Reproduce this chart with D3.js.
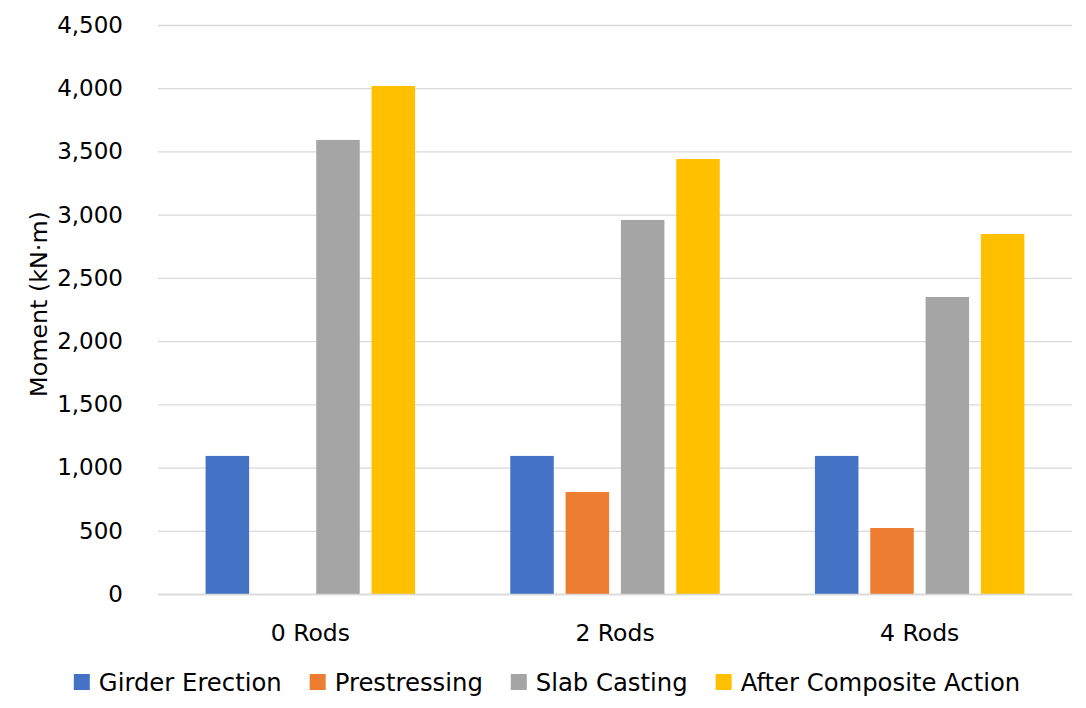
<!DOCTYPE html>
<html>
<head>
<meta charset="utf-8">
<script src="https://cdn.jsdelivr.net/npm/d3@7/dist/d3.min.js"></script>
<style>
  html, body { margin: 0; padding: 0; background: #fff; }
  svg { display: block; }
  text { font-family: "DejaVu Sans", sans-serif; fill: #000; }
</style>
</head>
<body>
<svg id="chart" width="1086" height="708"></svg>
<script>
const categories = ["0 Rods", "2 Rods", "4 Rods"];
const seriesNames = ["Girder Erection", "Prestressing", "Slab Casting", "After Composite Action"];
const girderErection = [1092, 1092, 1092];
const prestressing = [0, 807, 522];
const slabCasting = [3591, 2958, 2349];
const afterComposite = [4018, 3440, 2847];
const seriesValues = [girderErection, prestressing, slabCasting, afterComposite];
const colors = ["#4472C4", "#ED7D31", "#A5A5A5", "#FFC000"];
const yTicks = [0, 500, 1000, 1500, 2000, 2500, 3000, 3500, 4000, 4500];
const yTitle = "Moment (kN·m)";

const svg = d3.select("#chart");
const plot = { left: 158, right: 1072, top: 25, bottom: 594 };

const y = d3.scaleLinear().domain([0, 4500]).range([plot.bottom, plot.top]);
const x0 = d3.scaleBand().domain(categories).range([plot.left, plot.right]).padding(0);
const outer = 47.6;
const x1 = d3.scaleBand().domain(seriesNames)
  .range([outer, x0.bandwidth() - outer]).paddingInner(0.2134).paddingOuter(0);

// gridlines
const yAxis = d3.axisLeft(y).tickValues(yTicks).tickSize(-(plot.right - plot.left))
  .tickFormat(d3.format(","));
const gy = svg.append("g").attr("transform", `translate(${plot.left},0)`).call(yAxis);
gy.select(".domain").remove();
gy.selectAll(".tick line").attr("stroke", "#d9d9d9").attr("stroke-width", 1.3);
gy.selectAll(".tick text").attr("x", -35).attr("font-size", 23)
  .attr("font-family", "DejaVu Sans, sans-serif").attr("fill", "#000");

// bars
const groups = svg.append("g").selectAll("g").data(categories).join("g")
  .attr("transform", d => `translate(${x0(d)},0)`);
groups.selectAll("rect")
  .data((c, ci) => seriesNames.map((s, si) => ({ s, si, v: seriesValues[si][ci] })))
  .join("rect")
  .attr("x", d => x1(d.s))
  .attr("width", x1.bandwidth())
  .attr("y", d => y(d.v))
  .attr("height", d => y(0) - y(d.v))
  .attr("fill", d => colors[d.si]);

// x axis
const xAxis = d3.axisBottom(x0).tickSize(0).tickPadding(0);
const gx = svg.append("g").attr("transform", `translate(0,${plot.bottom})`).call(xAxis);
gx.select(".domain").attr("stroke", "#d9d9d9").attr("stroke-width", 1.3);
gx.selectAll(".tick text").attr("y", 47).attr("dy", 0).attr("font-size", 23.5)
  .attr("font-family", "DejaVu Sans, sans-serif").attr("fill", "#000");

// y title
svg.append("text")
  .attr("transform", `translate(47,304) rotate(-90)`)
  .attr("text-anchor", "middle").attr("font-size", 23.8).text(yTitle);

// legend
const leg = svg.append("g");
const sq = 16, gapText = 9, gapItem = 28;
let xpos = 0;
seriesNames.forEach((s, i) => {
  const g = leg.append("g");
  g.append("rect").attr("x", 0).attr("y", -sq / 2).attr("width", sq).attr("height", sq).attr("fill", colors[i]);
  const t = g.append("text").attr("x", sq + gapText).attr("y", 8.5).attr("font-size", 24.3).text(s);
  const w = sq + gapText + t.node().getComputedTextLength();
  g.attr("transform", `translate(${xpos},0)`);
  xpos += w + gapItem;
});
const total = xpos - gapItem;
leg.attr("transform", `translate(${(78 + 1016) / 2 - total / 2},682)`);
</script>
</body>
</html>
